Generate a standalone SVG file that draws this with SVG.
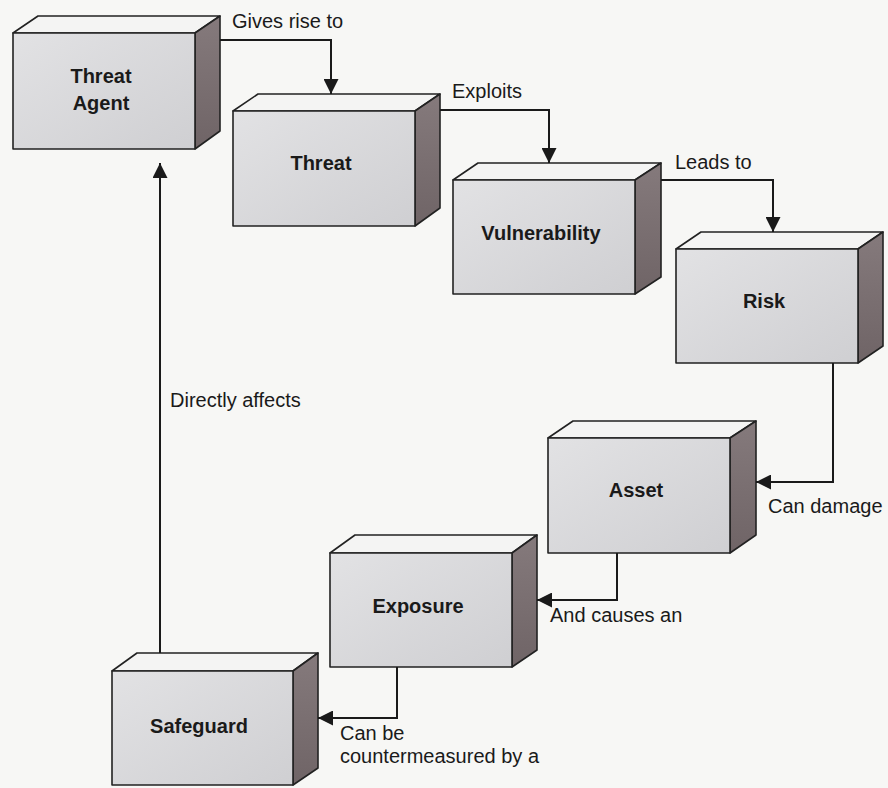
<svg xmlns="http://www.w3.org/2000/svg" width="888" height="788" viewBox="0 0 888 788">
  <style>
    .front { fill: url(#frontGrad); stroke: #222; stroke-width: 1.6; stroke-linejoin: round; }
    .top { fill: #f4f4f3; stroke: #222; stroke-width: 1.6; stroke-linejoin: round; }
    .side { fill: url(#sideGrad); stroke: #222; stroke-width: 1.6; stroke-linejoin: round; }
    .label { font-family: "Liberation Sans", Arial, sans-serif; font-size: 20px; font-weight: bold; fill: #1a1a1a; text-anchor: middle; }
    .conn { fill: none; stroke: #1a1a1a; stroke-width: 2; }
    .clabel { font-family: "Liberation Sans", Arial, sans-serif; font-size: 20px; fill: #1a1a1a; }
  </style>
  <defs>
    <linearGradient id="frontGrad" x1="0" y1="0" x2="1" y2="1">
      <stop offset="0" stop-color="#e2e2e4"/>
      <stop offset="1" stop-color="#cfcfd2"/>
    </linearGradient>
    <linearGradient id="sideGrad" x1="0" y1="0" x2="0" y2="1">
      <stop offset="0" stop-color="#857a7c"/>
      <stop offset="1" stop-color="#6f6466"/>
    </linearGradient>
    <marker id="arrow" viewBox="0 0 15 15" refX="15" refY="7.5" markerWidth="15" markerHeight="15" markerUnits="userSpaceOnUse" orient="auto">
      <path d="M0,0 L15,7.5 L0,15 z" fill="#1a1a1a"/>
    </marker>
  </defs>
  <rect width="888" height="788" fill="#f7f7f5"/>

  <g id="threat-agent">
    <polygon class="top" points="13,33 38,16 220,16 195,33"/>
    <polygon class="side" points="195,33 220,16 220,131 195,149"/>
    <rect class="front" x="13" y="33" width="182" height="116"/>
    <text class="label" x="101" y="83">Threat</text>
    <text class="label" x="101" y="110">Agent</text>
  </g>

  <g id="threat">
    <polygon class="top" points="233,111 258,94 440,94 415,111"/>
    <polygon class="side" points="415,111 440,94 440,208 415,226"/>
    <rect class="front" x="233" y="111" width="182" height="115"/>
    <text class="label" x="321" y="170">Threat</text>
  </g>

  <g id="vulnerability">
    <polygon class="top" points="453,180 478,163 661,163 635,180"/>
    <polygon class="side" points="635,180 661,163 661,277 635,294"/>
    <rect class="front" x="453" y="180" width="182" height="114"/>
    <text class="label" x="541" y="240">Vulnerability</text>
  </g>

  <g id="risk">
    <polygon class="top" points="676,249 701,232 883,232 858,249"/>
    <polygon class="side" points="858,249 883,232 883,346 858,363"/>
    <rect class="front" x="676" y="249" width="182" height="114"/>
    <text class="label" x="764" y="308">Risk</text>
  </g>

  <g id="asset">
    <polygon class="top" points="548,438 573,421 756,421 730,438"/>
    <polygon class="side" points="730,438 756,421 756,535 730,553"/>
    <rect class="front" x="548" y="438" width="182" height="115"/>
    <text class="label" x="636" y="497">Asset</text>
  </g>

  <g id="exposure">
    <polygon class="top" points="330,553 355,535 537,535 512,553"/>
    <polygon class="side" points="512,553 537,535 537,650 512,667"/>
    <rect class="front" x="330" y="553" width="182" height="114"/>
    <text class="label" x="418" y="613">Exposure</text>
  </g>

  <g id="safeguard">
    <polygon class="top" points="112,671 137,653 318,653 293,671"/>
    <polygon class="side" points="293,671 318,653 318,768 293,785"/>
    <rect class="front" x="112" y="671" width="181" height="114"/>
    <text class="label" x="199" y="733">Safeguard</text>
  </g>

  <g id="connectors">
    <path class="conn" d="M220,40 H331 V94" marker-end="url(#arrow)"/>
    <path class="conn" d="M440,110 H549 V163" marker-end="url(#arrow)"/>
    <path class="conn" d="M661,180 H773 V232" marker-end="url(#arrow)"/>
    <path class="conn" d="M833,363 V482 H756" marker-end="url(#arrow)"/>
    <path class="conn" d="M617,553 V600 H537" marker-end="url(#arrow)"/>
    <path class="conn" d="M397,667 V718 H318" marker-end="url(#arrow)"/>
    <path class="conn" d="M160,653 V163" marker-end="url(#arrow)"/>
    <text class="clabel" x="232" y="28">Gives rise to</text>
    <text class="clabel" x="452" y="98">Exploits</text>
    <text class="clabel" x="675" y="169">Leads to</text>
    <text class="clabel" x="768" y="513">Can damage</text>
    <text class="clabel" x="550" y="622">And causes an</text>
    <text class="clabel" x="340" y="740">Can be</text>
    <text class="clabel" x="340" y="763">countermeasured by a</text>
    <text class="clabel" x="170" y="407">Directly affects</text>
  </g>
</svg>
